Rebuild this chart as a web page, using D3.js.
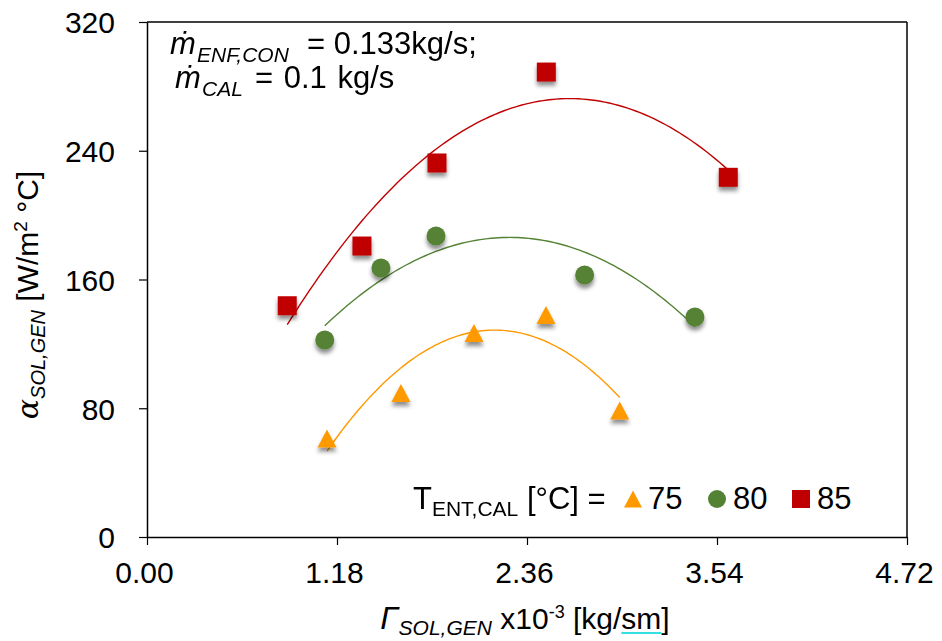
<!DOCTYPE html>
<html>
<head>
<meta charset="utf-8">
<script src="https://cdn.jsdelivr.net/npm/d3@7"></script>
<style>
  html, body { margin: 0; padding: 0; background: #fff; }
  svg { display: block; }
  text { font-family: "Liberation Sans", Arial, sans-serif; fill: #000; }
</style>
</head>
<body>
<svg id="chart" width="942" height="641"></svg>
<script>
// ---- data ----
const xTicks = [0.00, 1.18, 2.36, 3.54, 4.72];
const yTicks = [0, 80, 160, 240, 320];

const seriesNames = ["75", "80", "85"];
const x75 = [1.118, 1.577, 2.031, 2.478, 2.936];
const y75 = [61.2, 89.5, 126.8, 137.9, 78.6];
const x80 = [1.104, 1.453, 1.795, 2.718, 3.403];
const y80 = [122.4, 167.2, 187.0, 162.8, 136.7];
const x85 = [0.871, 1.335, 1.801, 2.480, 3.610];
const y85 = [143.7, 180.8, 232.4, 288.9, 223.5];

const colors = { "75": "#FF9900", "80": "#548235", "85": "#C00000" };
const shapes = { "75": "triangle", "80": "circle", "85": "square" };

const series = [
  { name: "75", xs: x75, ys: y75 },
  { name: "80", xs: x80, ys: y80 },
  { name: "85", xs: x85, ys: y85 }
];

// ---- layout ----
const svg = d3.select("#chart");
const L = 147, R = 907, T = 22, B = 537;
const x = d3.scaleLinear().domain([0, 4.72]).range([L, R]);
const y = d3.scaleLinear().domain([0, 320]).range([B, T]);

// shadow filter
const defs = svg.append("defs");
const f = defs.append("filter").attr("id", "shadow")
  .attr("x", "-50%").attr("y", "-50%").attr("width", "200%").attr("height", "220%");
f.append("feDropShadow").attr("dx", 0).attr("dy", 4).attr("stdDeviation", 2)
  .attr("flood-color", "#000").attr("flood-opacity", 0.45);

// frame (top and right)
svg.append("line").attr("x1", L).attr("x2", R).attr("y1", T).attr("y2", T)
  .attr("stroke", "#000").attr("stroke-width", 1.5);
svg.append("line").attr("x1", R).attr("x2", R).attr("y1", T).attr("y2", B)
  .attr("stroke", "#000").attr("stroke-width", 1.5);

// axes
const xAxis = d3.axisBottom(x).tickValues(xTicks).tickFormat(d3.format(".2f"))
  .tickSizeInner(8).tickSizeOuter(0).tickPadding(16);
const yAxis = d3.axisLeft(y).tickValues(yTicks).tickFormat(d3.format("d"))
  .tickSizeInner(8).tickSizeOuter(0).tickPadding(24);

const gx = svg.append("g").attr("transform", `translate(0,${B})`).call(xAxis);
const gy = svg.append("g").attr("transform", `translate(${L},0)`).call(yAxis);
[gx, gy].forEach(g => {
  g.select(".domain").attr("stroke", "#000").attr("stroke-width", 1.5);
  g.selectAll(".tick line").attr("stroke", "#000").attr("stroke-width", 1.2);
  g.selectAll(".tick text").attr("font-size", 30)
    .attr("font-family", "'Liberation Sans', Arial, sans-serif").attr("fill", "#000");
});
gy.selectAll(".tick text").attr("dy", "0.36em");
gx.selectAll(".tick text").attr("dy", "0.72em").attr("dx", -3);

// quadratic least-squares trendline
function polyfit2(xs, ys) {
  let n = xs.length, S = [0,0,0,0,0], Ty = [0,0,0];
  for (let i = 0; i < n; i++) {
    let p = 1;
    for (let k = 0; k < 5; k++) { S[k] += p; if (k < 3) Ty[k] += p * ys[i]; p *= xs[i]; }
  }
  const A = [[S[0],S[1],S[2],Ty[0]],[S[1],S[2],S[3],Ty[1]],[S[2],S[3],S[4],Ty[2]]];
  for (let i = 0; i < 3; i++) {
    for (let j = i + 1; j < 3; j++) {
      const r = A[j][i] / A[i][i];
      for (let k = i; k < 4; k++) A[j][k] -= r * A[i][k];
    }
  }
  const c = [0,0,0];
  for (let i = 2; i >= 0; i--) {
    let s = A[i][3];
    for (let k = i + 1; k < 3; k++) s -= A[i][k] * c[k];
    c[i] = s / A[i][i];
  }
  return c;
}

const line = d3.line().x(d => x(d[0])).y(d => y(d[1]));
series.forEach(s => {
  const c = polyfit2(s.xs, s.ys);
  const [lo, hi] = d3.extent(s.xs);
  const pts = d3.range(0, 101).map(i => {
    const xv = lo + (hi - lo) * i / 100;
    return [xv, c[0] + c[1] * xv + c[2] * xv * xv];
  });
  svg.append("path").datum(pts).attr("d", line).attr("fill", "none")
    .attr("stroke", colors[s.name]).attr("stroke-width", 1.4);
});

// markers
function symbolPath(shape, size) {
  if (shape === "triangle") {
    const w = size, h = size * 0.95;
    return `M0,${-h/2}L${w/2},${h/2}L${-w/2},${h/2}Z`;
  }
  if (shape === "square") {
    const a = size / 2;
    return `M${-a},${-a}H${a}V${a}H${-a}Z`;
  }
  const r = size / 2;
  return `M${r},0A${r},${r} 0 1,1 ${-r},0A${r},${r} 0 1,1 ${r},0Z`;
}

series.forEach(s => {
  svg.append("g").attr("filter", "url(#shadow)")
    .selectAll("path").data(s.xs.map((xv, i) => [xv, s.ys[i]])).join("path")
    .attr("transform", d => `translate(${x(d[0])},${y(d[1])})`)
    .attr("d", symbolPath(shapes[s.name], 19))
    .attr("fill", colors[s.name]);
});

// annotation
const ann = svg.append("g");
ann.append("text").attr("x", 170).attr("y", 54).attr("font-size", 31)
  .attr("font-family", "'DejaVu Serif', serif").attr("font-style", "italic").text("ṁ");
ann.append("text").attr("x", 197).attr("y", 62).attr("font-size", 21)
  .attr("font-family", "'DejaVu Serif', serif").attr("font-style", "italic").text("ENF,CON");
ann.append("text").attr("x", 307).attr("y", 54).attr("font-size", 31).text("= 0.133kg/s;");
ann.append("text").attr("x", 175).attr("y", 88).attr("font-size", 31)
  .attr("font-family", "'DejaVu Serif', serif").attr("font-style", "italic").text("ṁ");
ann.append("text").attr("x", 202).attr("y", 96).attr("font-size", 21)
  .attr("font-family", "'DejaVu Serif', serif").attr("font-style", "italic").text("CAL");
ann.append("text").attr("x", 255).attr("y", 88).attr("font-size", 31)
  .attr("word-spacing", 2).text("= 0.1 kg/s");

// legend
const lg = svg.append("g");
const lt = lg.append("text").attr("x", 413).attr("y", 509).attr("font-size", 31);
lt.append("tspan").text("T");
lt.append("tspan").text("ENT,CAL").attr("font-size", 21).attr("dy", 7);
lt.append("tspan").text(" [°C] =").attr("dy", -7);

const legendItems = [
  { name: "75", mx: 633, tx: 648 },
  { name: "80", mx: 717, tx: 733 },
  { name: "85", mx: 801, tx: 817 }
];
legendItems.forEach(it => {
  lg.append("path").attr("transform", `translate(${it.mx},499)`)
    .attr("d", symbolPath(shapes[it.name], 18)).attr("fill", colors[it.name]);
  lg.append("text").attr("x", it.tx).attr("y", 509).attr("font-size", 31).text(it.name);
});

// y-axis title
const yt = svg.append("text")
  .attr("transform", "translate(38,295) rotate(-90)")
  .attr("text-anchor", "middle").attr("font-size", 30);
yt.append("tspan").text("α").attr("font-family", "'DejaVu Serif', serif").attr("font-style", "italic");
yt.append("tspan").text("SOL,GEN").attr("font-style", "italic").attr("font-size", 20).attr("dy", 7);
yt.append("tspan").text(" [W/m").attr("dy", -7);
yt.append("tspan").text("2").attr("font-size", 19).attr("dy", -11);
yt.append("tspan").text(" °C]").attr("dy", 11);

// x-axis title
const xt = svg.append("text").attr("x", 525).attr("y", 629)
  .attr("text-anchor", "middle").attr("font-size", 30);
xt.append("tspan").text("Γ").attr("font-style", "italic").attr("font-size", 32);
xt.append("tspan").text("SOL,GEN").attr("font-style", "italic").attr("font-size", 21).attr("dy", 6);
xt.append("tspan").text(" x10").attr("dy", -6);
xt.append("tspan").text("-3").attr("font-size", 18).attr("dy", -11);
xt.append("tspan").text(" [kg/").attr("dy", 11);
xt.append("tspan").text("sm");
xt.append("tspan").text("]");
const full = "ΓSOL,GEN x10-3 [kg/sm]";
const idx = full.indexOf("sm");
const p0 = xt.node().getStartPositionOfChar(idx);
const p1 = xt.node().getEndPositionOfChar(idx + 1);
svg.append("line").attr("x1", p0.x).attr("x2", p1.x).attr("y1", 633).attr("y2", 633)
  .attr("stroke", "#33E0E0").attr("stroke-width", 2);
</script>
</body>
</html>
